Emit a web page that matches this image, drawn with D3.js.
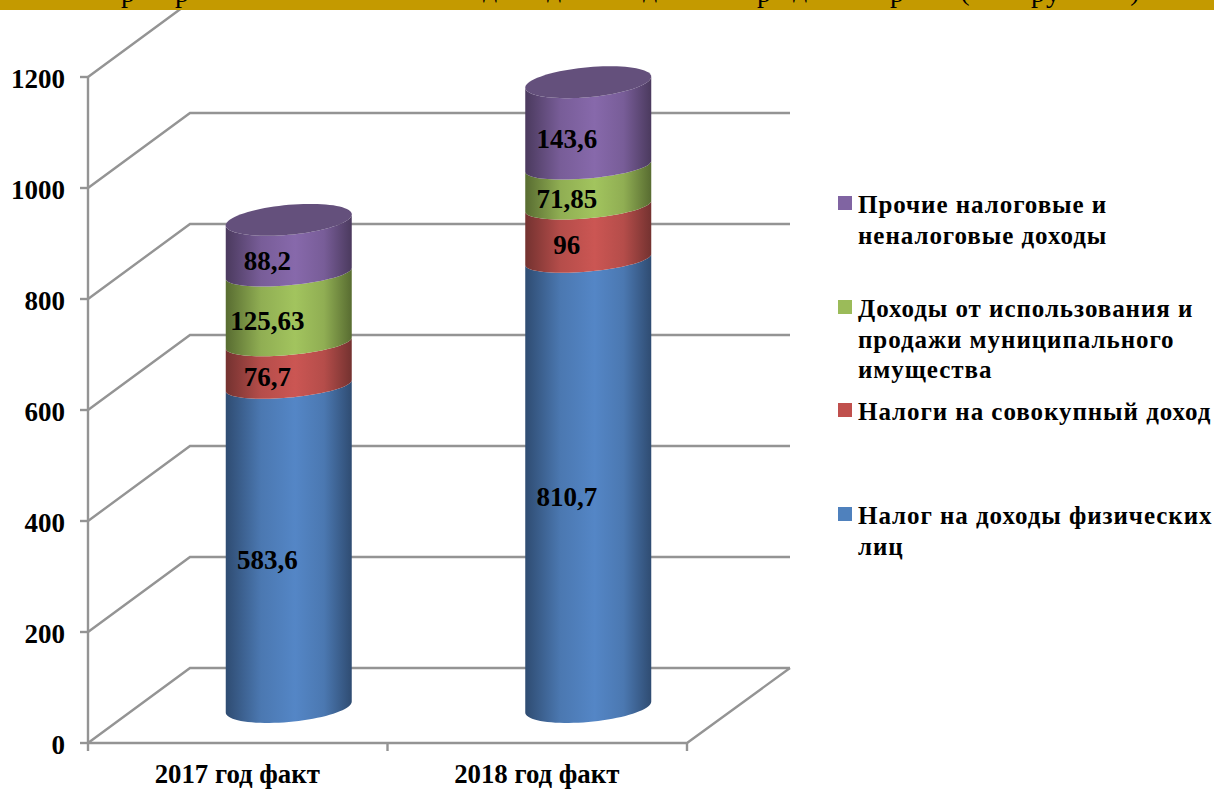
<!DOCTYPE html>
<html><head><meta charset="utf-8"><style>html,body{margin:0;padding:0;background:#fff}svg{display:block}text{font-family:"Liberation Serif",serif;font-weight:bold;fill:#000}</style>
<script src="https://cdn.jsdelivr.net/npm/d3@7"></script></head><body><script>
const categories=["2017 год факт","2018 год факт"];
const seriesNames=["Налог на доходы физических лиц","Налоги на совокупный доход","Доходы от использования и продажи муниципального имущества","Прочие налоговые и неналоговые доходы"];
const seriesValues=[[583.6,810.7],[76.7,96],[125.63,71.85],[88.2,143.6]];
const valueLabels=[["583,6","810,7"],["76,7","96"],["125,63","71,85"],["88,2","143,6"]];
const seriesColors=[["#5486c6","#2f4c72"],["#cb5653","#743230"],["#a2c45e","#586c31"],["#8769ab","#4b3a5e"]];
const yTicks=[0,200,400,600,800,1000,1200];
const legendLines=[["Прочие налоговые и","неналоговые доходы"],["Доходы от использования и","продажи муниципального","имущества"],["Налоги на совокупный доход"],["Налог на доходы физических","лиц"]];
const legendColors=["#8064a2","#9bbb59","#c0504d","#4f81bd"];
const legendY=[205,309,412,516];
const clippedTitleGlyphs=[["р",128,2],["р",182,2],["д",490,-3],["д",554,-3],["д",650,-3],["д",800,-3],["р",764,2],["р",897,2],["(",965,0],["р",1038,2],["у",1053,2],[")",1135,0]];
const W=1214,H=789;
const svg=d3.select("body").append("svg").attr("width",W).attr("height",H);
const defs=svg.append("defs");
const y=d3.scaleLinear().domain([0,1200]).range([743,77]);
const x=d3.scaleBand().domain(categories).range([88,687]);
const depthX=102,depthY=-75;
const axisColor="#949494";
const g=svg.append("g").attr("fill","none").attr("stroke",axisColor).attr("stroke-width",2.4);
yTicks.forEach(t=>{
  g.append("path").attr("d",`M${x.range()[0]},${y(t)}L${x.range()[0]+depthX},${y(t)+depthY}H${x.range()[1]+depthX+1}`);
  g.append("line").attr("x1",80).attr("x2",88).attr("y1",y(t)).attr("y2",y(t));
});
g.append("line").attr("x1",88).attr("x2",88).attr("y1",y(0)).attr("y2",y(1200));
g.append("path").attr("d",`M88,${y(0)}H687L${687+depthX+1},${y(0)+depthY}`);
[88,x(categories[1]),687].forEach(v=>g.append("line").attr("x1",v).attr("x2",v).attr("y1",y(0)).attr("y2",y(0)+8));
const rx=63,tilt=5.5,by=12,baseBy=15,topBy=15,topShift=3,midShift=1.5;
const baseOffset=y(0)-35;
const yy=v=>baseOffset-(y(0)-y(v));
seriesColors.forEach((c,i)=>{
  const gr=defs.append("linearGradient").attr("id","g"+i);
  gr.append("stop").attr("offset","0%").attr("stop-color",c[1]);
  gr.append("stop").attr("offset","28%").attr("stop-color",d3.interpolateRgb(c[1],c[0])(.75));
  gr.append("stop").attr("offset","55%").attr("stop-color",c[0]);
  gr.append("stop").attr("offset","78%").attr("stop-color",d3.interpolateRgb(c[1],c[0])(.75));
  gr.append("stop").attr("offset","100%").attr("stop-color",c[1]);
});
const ts=d3.range(0,41).map(k=>k/40*Math.PI);
const frontArc=(cx,cy,b=by)=>ts.map(t=>[cx+rx*Math.cos(t),cy+b*Math.sin(t)-tilt*Math.cos(t)]);
const backArc=(cx,cy,b=by)=>ts.map(t=>[cx-rx*Math.cos(t),cy-b*Math.sin(t)+tilt*Math.cos(t)]);
const line=d3.line();
const cols=svg.append("g");
categories.forEach((cat,j)=>{
  const cx=x(cat)+x.bandwidth()/2+depthX/2;
  let cum=0;
  seriesValues.forEach((vals,i)=>{
    const last=i===seriesValues.length-1;
    const y0=yy(cum),y1=yy(cum+vals[j]);
    const bottom=i===0?frontArc(cx,y0-1,baseBy):frontArc(cx,y0+midShift);
    const top=(last?frontArc(cx,y1-topShift,topBy):frontArc(cx,y1+midShift)).reverse();
    cols.append("path").attr("d",line(bottom.concat(top))+"Z").attr("fill",`url(#g${i})`);
    cum+=vals[j];
    if(last){
      cols.append("path").attr("d",line(frontArc(cx,y1-topShift,topBy).concat(backArc(cx,y1-topShift,topBy)))+"Z").attr("fill","#64507c");
    }
  });
  cum=0;
  seriesValues.forEach((vals,i)=>{
    const mid=yy(cum+vals[j]/2);
    svg.append("text").attr("x",cx-21.5).attr("y",mid+23).attr("text-anchor","middle").attr("font-size",27).text(valueLabels[i][j]);
    cum+=vals[j];
  });
  svg.append("text").attr("x",x(cat)+x.bandwidth()/2-0.5).attr("y",783).attr("text-anchor","middle").attr("font-size",26.8).text(cat);
});
yTicks.forEach(t=>svg.append("text").attr("x",65).attr("y",y(t)+11).attr("text-anchor","end").attr("font-size",27).text(t));
legendLines.forEach((ls,i)=>{
  svg.append("rect").attr("x",838).attr("y",legendY[i]-9).attr("width",14).attr("height",14).attr("fill",legendColors[i]);
  ls.forEach((l,k)=>svg.append("text").attr("x",858).attr("y",legendY[i]+8+k*30.5).attr("font-size",25).style("letter-spacing","0.95px").text(l));
});
svg.append("rect").attr("width",W).attr("height",10).attr("fill","#c49a00");
clippedTitleGlyphs.forEach(d=>svg.append("text").attr("x",d[1]).attr("y",d[2]).attr("text-anchor","middle").attr("font-size",28).style("font-weight","normal").text(d[0]));
</script></body></html>
